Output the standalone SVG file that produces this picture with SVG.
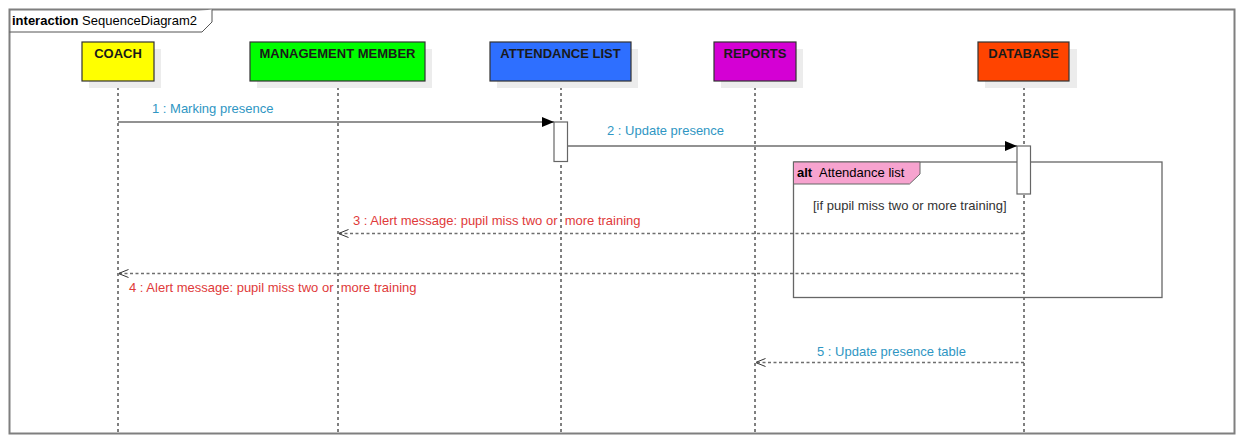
<svg xmlns="http://www.w3.org/2000/svg" width="1244" height="446" viewBox="0 0 1244 446">
<defs>
<style>
text{font-family:"Liberation Sans",Arial,sans-serif;font-size:13px;white-space:pre}
.frame{fill:none;stroke:#7f7f7f;stroke-width:2}
.box{stroke:#333;stroke-width:1.2}
.shadow{fill:#ececec}
.name{font-weight:bold;fill:#1a1a1a;text-anchor:middle}
.life{stroke:#000;stroke-width:1;stroke-dasharray:3,3;fill:none}
.act{fill:#fff;stroke:#666;stroke-width:1.2}
.sync{stroke:#6e6e6e;stroke-width:1.6;fill:none}
.ret{stroke:#6e6e6e;stroke-width:1.6;stroke-dasharray:3,2.5;fill:none}
.blue{fill:#2f96c3}
.red{fill:#e03a3a}
</style>
<marker id="filled" viewBox="0 0 12 10" refX="12" refY="5" markerWidth="12" markerHeight="10" markerUnits="userSpaceOnUse" orient="auto">
<path d="M0,0 L12,5 L0,10 Z" fill="#000"/>
</marker>
<marker id="open" viewBox="0 0 10 10" refX="10" refY="5" markerWidth="10" markerHeight="10" markerUnits="userSpaceOnUse" orient="auto">
<path d="M0,1 L10,5 L0,9" fill="none" stroke="#333" stroke-width="1"/>
</marker>
</defs>
<rect width="1244" height="446" fill="#fff"/>

<g id="frame">
<rect class="frame" x="9.5" y="9.5" width="1225" height="424"/>
<path d="M9.5,32 H202 L212,22 V9.5" fill="#fff" stroke="#555" stroke-width="1"/>
<text x="12" y="25"><tspan font-weight="bold">interaction</tspan> SequenceDiagram2</text>
</g>

<g id="lifelines">
<line class="life" x1="118" y1="81" x2="118" y2="433"/>
<line class="life" x1="338" y1="81" x2="338" y2="433"/>
<line class="life" x1="561" y1="81" x2="561" y2="433"/>
<line class="life" x1="755" y1="81" x2="755" y2="433"/>
<line class="life" x1="1024" y1="81" x2="1024" y2="433"/>
</g>

<g id="coach">
<rect class="shadow" x="89" y="49" width="72" height="39"/>
<rect class="box" x="82" y="42" width="72" height="39" fill="#ffff00"/>
<text class="name" x="118" y="58">COACH</text>
</g>
<g id="management">
<rect class="shadow" x="257" y="49" width="175" height="39"/>
<rect class="box" x="250" y="42" width="175" height="39" fill="#00ff00"/>
<text class="name" x="337.5" y="58">MANAGEMENT MEMBER</text>
</g>
<g id="attendance">
<rect class="shadow" x="497" y="49" width="141" height="39"/>
<rect class="box" x="490" y="42" width="141" height="39" fill="#2e6fff"/>
<text class="name" x="560.5" y="58">ATTENDANCE LIST</text>
</g>
<g id="reports">
<rect class="shadow" x="721" y="49" width="82" height="39"/>
<rect class="box" x="714" y="42" width="82" height="39" fill="#d400d4"/>
<text class="name" x="755" y="58">REPORTS</text>
</g>
<g id="database">
<rect class="shadow" x="985" y="49" width="92" height="39"/>
<rect class="box" x="978" y="42" width="91" height="39" fill="#ff4400"/>
<text class="name" x="1023.5" y="58">DATABASE</text>
</g>

<g id="alt">
<rect x="793.5" y="162" width="368.5" height="135.5" fill="none" stroke="#666" stroke-width="1.3"/>
<path d="M793.5,162 H920 V174 L909.5,184 H793.5 Z" fill="#f7a3cf" stroke="#666" stroke-width="1"/>
<text x="797" y="177"><tspan font-weight="bold">alt</tspan></text>
<text x="819" y="177">Attendance list</text>
<text x="813" y="210" fill="#333">[if pupil miss two or more training]</text>
</g>

<g id="activations">
<rect class="act" x="554" y="122" width="13.5" height="39.5"/>
<rect class="act" x="1017" y="146" width="13.5" height="48"/>
</g>

<g id="connectors">
<line class="sync" x1="118" y1="122" x2="554" y2="122" marker-end="url(#filled)"/>
<text class="blue" x="152" y="113">1 : Marking presence</text>
<line class="sync" x1="567.5" y1="146" x2="1017" y2="146" marker-end="url(#filled)"/>
<text class="blue" x="607" y="135">2 : Update presence</text>
<line class="ret" x1="1024" y1="233.5" x2="338.5" y2="233.5" marker-end="url(#open)"/>
<text class="red" x="353" y="225">3 : Alert message: pupil miss two or&#160; more training</text>
<line class="ret" x1="1024" y1="273.5" x2="118.5" y2="273.5" marker-end="url(#open)"/>
<text class="red" x="129" y="292">4 : Alert message: pupil miss two or&#160; more training</text>
<line class="ret" x1="1024" y1="362.5" x2="755.5" y2="362.5" marker-end="url(#open)"/>
<text class="blue" x="817" y="356">5 : Update presence table</text>
</g>
</svg>
